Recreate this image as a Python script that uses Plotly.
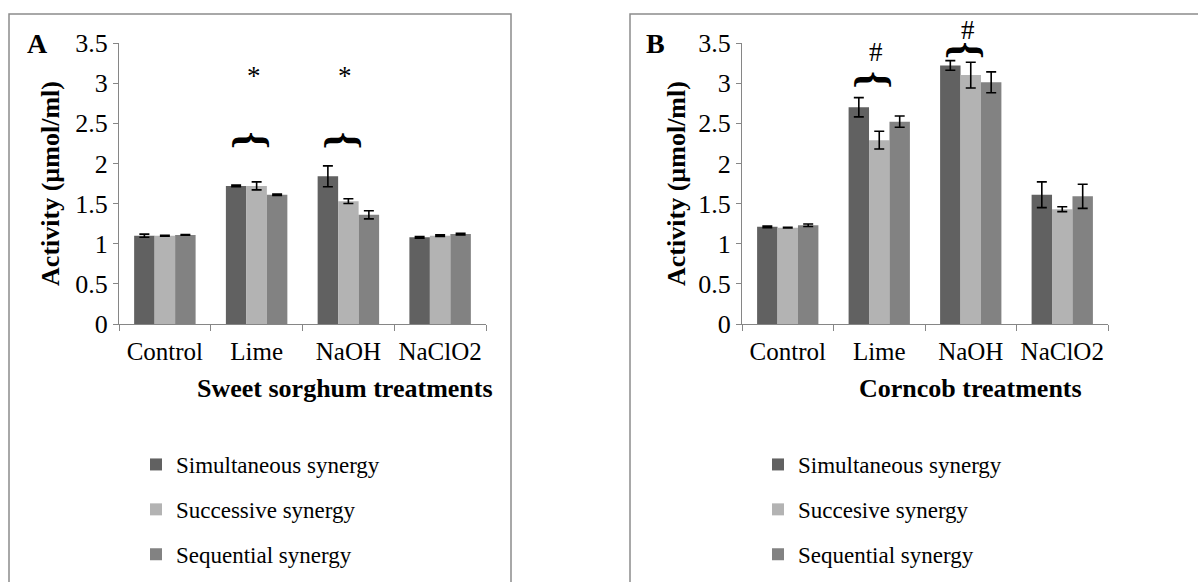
import plotly.graph_objects as go

categories = ["Control", "Lime", "NaOH", "NaClO2"]

series_a = ["Simultaneous synergy", "Successive synergy", "Sequential synergy"]
series_b = ["Simultaneous synergy", "Succesive synergy", "Sequential synergy"]

# Panel A: Sweet sorghum
a_simul = [1.10, 1.72, 1.84, 1.08]
a_simul_err = [0.02, 0.01, 0.13, 0.01]
a_succ = [1.10, 1.72, 1.53, 1.10]
a_succ_err = [0.005, 0.05, 0.03, 0.01]
a_seq = [1.11, 1.61, 1.36, 1.12]
a_seq_err = [0.005, 0.01, 0.05, 0.01]

# Panel B: Corncob
b_simul = [1.21, 2.70, 3.22, 1.61]
b_simul_err = [0.01, 0.12, 0.06, 0.16]
b_succ = [1.20, 2.29, 3.10, 1.43]
b_succ_err = [0.005, 0.11, 0.16, 0.03]
b_seq = [1.23, 2.52, 3.01, 1.59]
b_seq_err = [0.015, 0.07, 0.13, 0.15]

y_ticks = [0, 0.5, 1, 1.5, 2, 2.5, 3, 3.5]
y_ticktext = ["0", "0.5", "1", "1.5", "2", "2.5", "3", "3.5"]

colors = ["#616161", "#b3b3b3", "#828282"]
FONT = "Liberation Serif"
W, H = 1198, 582

fig = go.Figure()

def add_panel(vals, errs, names, xa, ya, legend):
    for v, e, n, c in zip(vals, errs, names, colors):
        fig.add_trace(go.Bar(
            x=categories, y=v, name=n, marker=dict(color=c, line=dict(width=0)),
            error_y=dict(type="data", array=e, color="black", thickness=1.6, width=5),
            xaxis=xa, yaxis=ya, legend=legend, legendgroup=legend + n,
        ))

add_panel([a_simul, a_succ, a_seq], [a_simul_err, a_succ_err, a_seq_err], series_a, "x", "y", "legend")
add_panel([b_simul, b_succ, b_seq], [b_simul_err, b_succ_err, b_seq_err], series_b, "x2", "y2", "legend2")

ydom = [1 - 324 / H, 1 - 43 / H]
axis_common = dict(showline=True, linecolor="#868686", linewidth=1, showgrid=False,
                   zeroline=False, ticks="outside", tickcolor="#868686", automargin=False)
xtickfont = dict(family=FONT, size=25, color="black")
ytickfont = dict(family=FONT, size=26, color="black")
tfont = dict(family=FONT, size=26, color="black")

xa_common = dict(type="category", tickson="boundaries", ticklen=6, tickfont=xtickfont,
                 tickangle=0, ticklabelstandoff=5, **axis_common)
ya_common = dict(range=[0, 3.5], tickvals=y_ticks, ticktext=y_ticktext, ticklen=5,
                 tickfont=ytickfont, **axis_common)

fig.update_layout(
    width=W, height=H, margin=dict(l=0, r=0, t=0, b=0, autoexpand=False),
    paper_bgcolor="white", plot_bgcolor="white",
    barmode="group", bargap=0.33, bargroupgap=0,
    font=dict(family=FONT, color="black"),
    xaxis=dict(domain=[119 / W, 486 / W], anchor="y", **xa_common),
    yaxis=dict(domain=ydom, anchor="x",
               title=dict(text="<b>Activity (µmol/ml)</b>", font=tfont, standoff=8),
               **ya_common),
    xaxis2=dict(domain=[742 / W, 1108 / W], anchor="y2", **xa_common),
    yaxis2=dict(domain=ydom, anchor="x2",
                title=dict(text="<b>Activity (µmol/ml)</b>", font=tfont, standoff=5),
                **ya_common),
    legend=dict(x=136 / W, y=1 - 443 / H, xanchor="left", yanchor="top",
                font=dict(family=FONT, size=23, color="black"),
                tracegroupgap=12, itemwidth=30, bgcolor="rgba(0,0,0,0)"),
    legend2=dict(x=758 / W, y=1 - 443 / H, xanchor="left", yanchor="top",
                 font=dict(family=FONT, size=23, color="black"),
                 tracegroupgap=12, itemwidth=30, bgcolor="rgba(0,0,0,0)"),
    showlegend=True,
)

# x-axis titles
fig.add_annotation(text="<b>Sweet sorghum treatments</b>", xref="paper", yref="paper",
                   x=345 / W, y=1 - 388 / H, xanchor="center", yanchor="middle",
                   showarrow=False, font=tfont)
fig.add_annotation(text="<b>Corncob treatments</b>", xref="paper", yref="paper",
                   x=970 / W, y=1 - 388 / H, xanchor="center", yanchor="middle",
                   showarrow=False, font=tfont)

# panel frames
fig.add_shape(type="rect", xref="paper", yref="paper", x0=9 / W, x1=511 / W, y0=-0.05, y1=1 - 14 / H,
              line=dict(color="#8c8c8c", width=1.5))
fig.add_shape(type="rect", xref="paper", yref="paper", x0=630 / W, x1=1.05, y0=-0.05, y1=1 - 14 / H,
              line=dict(color="#8c8c8c", width=1.5))

# panel letters
fig.add_annotation(text="<b>A</b>", xref="paper", yref="paper", x=37 / W, y=1 - 44 / H,
                   xanchor="center", yanchor="middle",
                   showarrow=False, font=dict(family=FONT, size=28, color="black"))
fig.add_annotation(text="<b>B</b>", xref="paper", yref="paper", x=655 / W, y=1 - 44 / H,
                   xanchor="center", yanchor="middle",
                   showarrow=False, font=dict(family=FONT, size=28, color="black"))

# significance braces and marks (brace y in data units, mark y in pixels from top)
brace_font = dict(family=FONT, size=44, color="black")
mark_font = dict(family=FONT, size=27, color="black")
marks = [
    ("x", "y", "Lime", 2.29, "*", 76),
    ("x", "y", "NaOH", 2.29, "*", 76),
    ("x2", "y2", "Lime", 3.05, "#", 52),
    ("x2", "y2", "NaOH", 3.41, "#", 30),
]
for xa, ya, cat, by, sym, sy in marks:
    fig.add_annotation(text="<b>{</b>", xref=xa, yref=ya, x=cat, y=by, textangle=90,
                       showarrow=False, font=brace_font, xshift=-4)
    fig.add_annotation(text=sym, xref=xa, yref="paper", x=cat, y=1 - sy / H,
                       yanchor="middle", showarrow=False, font=mark_font, xshift=-3)

fig.write_html("out.html")
